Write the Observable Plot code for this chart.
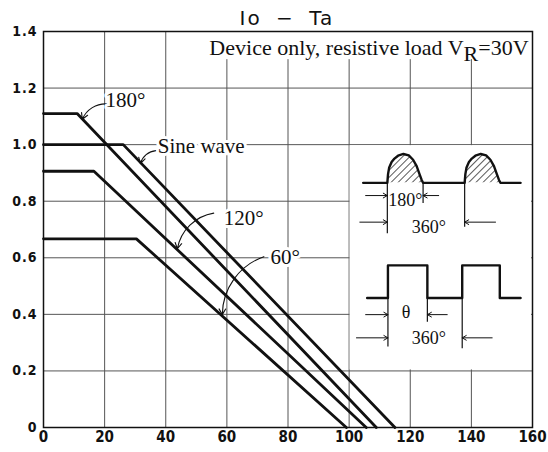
<!DOCTYPE html>
<html><head><meta charset="utf-8">
<script src="https://cdn.jsdelivr.net/npm/d3@7"></script>
<script src="https://cdn.jsdelivr.net/npm/@observablehq/plot@0.6"></script>
<style>
body{margin:0;background:#fff;width:548px;height:452px;overflow:hidden;position:relative}
#title{position:absolute;top:8px;left:0;width:548px;box-sizing:border-box;padding-left:26px;font:20px/20px "DejaVu Sans",sans-serif;text-align:center;letter-spacing:2px;word-spacing:6px;color:#111;white-space:pre;z-index:2}
#chart svg [aria-label^="y-axis"] text{font-size:14px;letter-spacing:1px}
</style></head><body>
<div id="chart"></div>
<div id="title">Io − Ta</div>
<script>
// axes
const xTicks=[0,20,40,60,80,100,120,140,160];
const yTicks=[0,0.2,0.4,0.6,0.8,1.0,1.2,1.4];
// curves: flat at rated Io until knee Ta, then linear to zero at zeroTa
const curveNames=["180°","Sine wave","120°","60°"];
const kneeTa=[11.0,26.1,16.5,30.4];
const ratedIo=[1.11,1.00,0.906,0.667];
const zeroTa=[108.9,115.0,105.6,99.1];
// curve labels and pointer arrows
const labelText=["180°","120°","60°"];
const labelX=[26.8,65.5,79.1];
const labelY=[1.156,0.741,0.602];
const sineLabel="Sine wave", sineLabelX=37.4, sineLabelY=0.994;
const arrowX1=[20.8,36.8,55.7,72.1];
const arrowY1=[1.144,0.979,0.758,0.604];
const arrowX2=[12.7,31.7,43.8,58.5];
const arrowY2=[1.090,0.933,0.632,0.399];
// note
const notePre="Device only, resistive load V", noteSub="R", notePost="=30V";
const noteX=158.7, noteY=1.343;
const noteBox={x1:50,x2:160,y1:1.297,y2:1.4};
const insetBox={x1:100,x2:160,y1:0.2,y2:1.0};
// inset: half-sine waveform
const sineBase=0.865, sinePeak=0.967;
const sineSpan=[104.6,156.1];
const humpStart=[112.5,137.8];
const humpWidth=11.7;
const humpT=[0,0.02,0.05,0.12,0.2,0.3,0.45,0.6,0.72,0.82,0.9,0.96,1];
const humpL=[0,0.3,0.52,0.72,0.84,0.94,1,0.95,0.8,0.58,0.3,0.1,0];
// inset: square waveform
const squareLow=0.458, squareHigh=0.573;
const squareX=[105.9,112.7,125.6,137.0,149.3,156.1];
// inset dimension marks
const tickX=[112.5,124.2,137.8,112.7,125.6,137.0];
const tickTop=[0.865,0.865,0.865,0.458,0.458,0.458];
const tickBottom=[0.685,0.792,0.708,0.285,0.372,0.278];
const dimX1=[105.4,129.3,103.5,147.9,105.4,132.1,102.4,146.8];
const dimX2=[112.5,124.2,112.5,137.8,112.7,125.6,112.7,137.0];
const dimY=[0.820,0.820,0.726,0.726,0.399,0.399,0.317,0.317];
const dimText=["180°","360°","θ","360°"];
const dimTextX=[118.4,126.1,118.6,126.1];
const dimTextY=[0.802,0.708,0.406,0.315];

// build tables
const lines=curveNames.flatMap((n,i)=>[
  {c:n,ta:0,io:ratedIo[i]},{c:n,ta:kneeTa[i],io:ratedIo[i]},{c:n,ta:zeroTa[i],io:0}]);
const sineWave=[{x:sineSpan[0],y:sineBase}];
const humps=[];
humpStart.forEach((s,k)=>{
  humpT.forEach((t,j)=>{
    const p={x:s+t*humpWidth,y:sineBase+humpL[j]*(sinePeak-sineBase),k};
    sineWave.push(p);humps.push(p);
  });
});
sineWave.push({x:sineSpan[1],y:sineBase});
const sq=[{x:squareX[0],y:squareLow}];
[[1,2],[3,4]].forEach(([a,b])=>{
  sq.push({x:squareX[a],y:squareLow},{x:squareX[a],y:squareHigh},{x:squareX[b],y:squareHigh},{x:squareX[b],y:squareLow});
});
sq.push({x:squareX[5],y:squareLow});

const serif="Liberation Serif";
const plot=Plot.plot({
  width:548,height:452,marginLeft:43,marginRight:16,marginTop:31,marginBottom:25,
  style:{fontFamily:"DejaVu Sans Condensed",fontWeight:"bold",fontSize:"15px",background:"white",color:"#111"},
  x:{domain:[0,160],ticks:xTicks,tickSize:0,tickPadding:4,label:null,tickFormat:d=>String(d)},
  y:{domain:[0,1.4],ticks:yTicks,tickSize:0,tickPadding:6,label:null,tickFormat:d=>d===0?"0":d.toFixed(1)},
  marks:[
    Plot.ruleX(xTicks.slice(1,-1),{stroke:"#555",strokeWidth:1}),
    Plot.ruleY(yTicks.slice(1,-1),{stroke:"#555",strokeWidth:1}),
    Plot.rect([noteBox],{x1:"x1",x2:"x2",y1:"y1",y2:"y2",fill:"white",inset:1}),
    Plot.rect([insetBox],{x1:"x1",x2:"x2",y1:"y1",y2:"y2",fill:"white",inset:1}),
    Plot.frame({stroke:"#111",strokeWidth:1.5}),
    Plot.line(lines,{x:"ta",y:"io",z:"c",stroke:"#111",strokeWidth:2.8}),
    Plot.arrow(arrowX1,{x1:arrowX1,y1:arrowY1,x2:arrowX2,y2:arrowY2,bend:-35,stroke:"#111",strokeWidth:1.1,headLength:9}),
    Plot.text(labelText,{x:labelX,y:labelY,text:labelText,fontFamily:serif,fontWeight:"normal",fontSize:21,fill:"#111",stroke:"white",strokeWidth:6}),
    Plot.text([sineLabel],{x:[sineLabelX],y:[sineLabelY],text:[sineLabel],textAnchor:"start",fontFamily:serif,fontWeight:"normal",fontSize:21,fill:"#111",stroke:"white",strokeWidth:6}),
    Plot.text([notePre+noteSub+notePost],{x:[noteX],y:[noteY],text:[notePre+noteSub+notePost],textAnchor:"end",fontFamily:serif,fontWeight:"normal",fontSize:22,fill:"#111"}),
    Plot.areaY(humps,{x:"x",y1:sineBase,y2:"y",z:"k",fill:"url(#hatch)",curve:"linear"}),
    Plot.line(sineWave,{x:"x",y:"y",stroke:"#111",strokeWidth:2.4,curve:"linear"}),
    Plot.line(sq,{x:"x",y:"y",stroke:"#111",strokeWidth:2.4}),
    Plot.ruleX(tickX,{x:tickX,y1:tickTop,y2:tickBottom,stroke:"#111",strokeWidth:1.2}),
    Plot.arrow(dimX1,{x1:dimX1,x2:dimX2,y1:dimY,y2:dimY,stroke:"#111",strokeWidth:1,headLength:7}),
    Plot.text(dimText,{x:dimTextX,y:dimTextY,text:dimText,fontFamily:serif,fontWeight:"normal",fontSize:18,fill:"#111"})
  ]
});
const svg=d3.select(plot);
const pat=svg.insert("defs",":first-child").append("pattern")
  .attr("id","hatch").attr("patternUnits","userSpaceOnUse").attr("width",5).attr("height",5)
  .attr("patternTransform","rotate(45)");
pat.append("line").attr("x1",0).attr("y1",0).attr("x2",0).attr("y2",5).attr("stroke","#111").attr("stroke-width",1.4);
svg.selectAll("text").filter(function(){return this.textContent===notePre+noteSub+notePost;}).each(function(){
  const t=d3.select(this); t.text(null);
  t.append("tspan").text(notePre);
  t.append("tspan").attr("dy","0.28em").text(noteSub);
  t.append("tspan").attr("dy","-0.28em").text(notePost);
});
document.getElementById("chart").appendChild(plot);
</script>
</body></html>
